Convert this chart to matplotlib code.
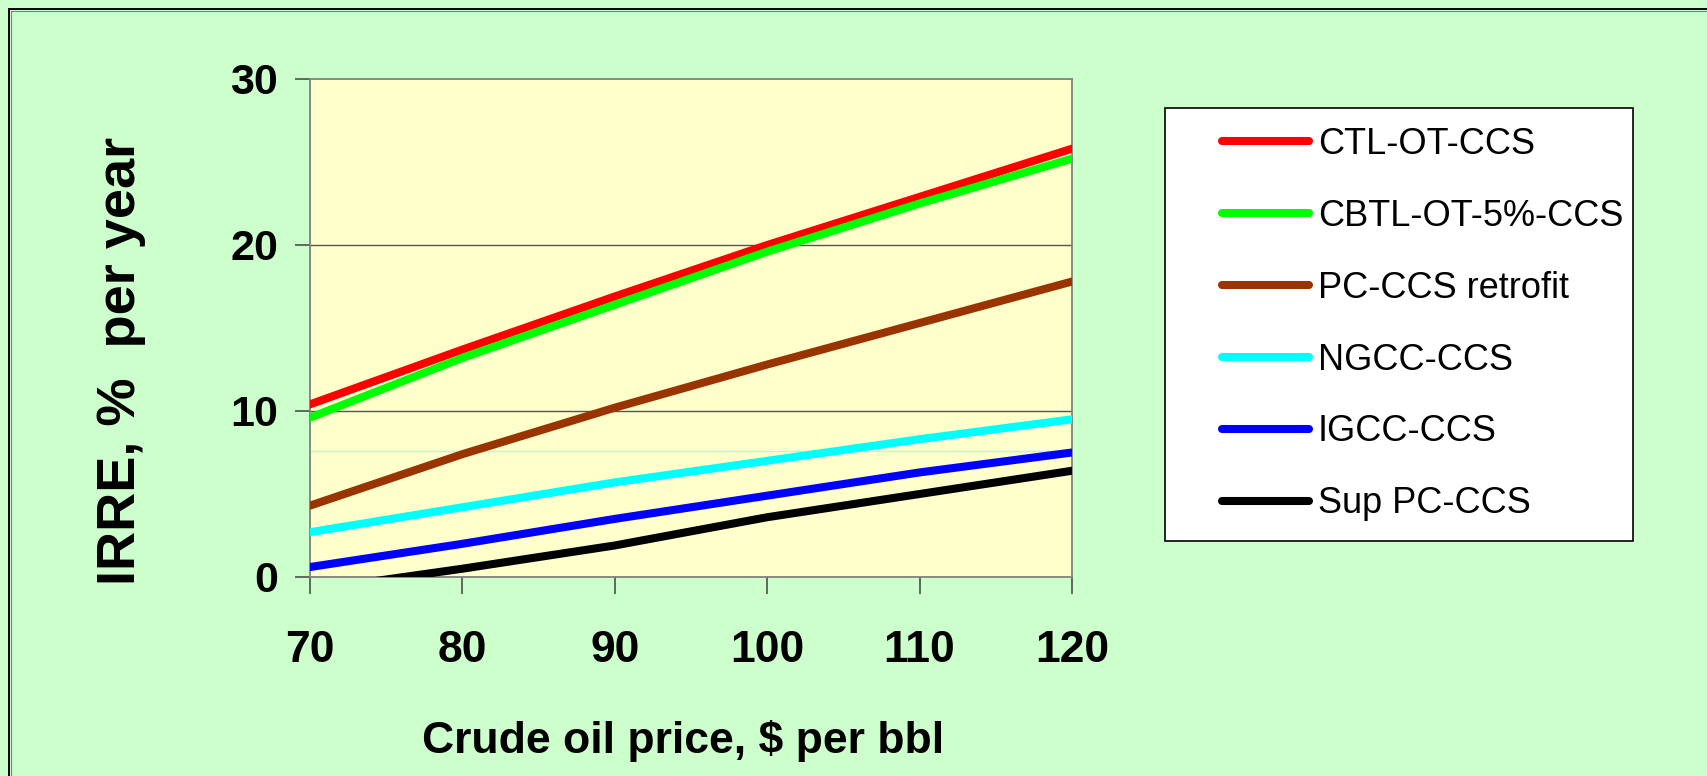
import matplotlib
matplotlib.use("Agg")
import matplotlib.pyplot as plt
from matplotlib.lines import Line2D
from matplotlib.patches import Rectangle

# Crude oil price ($/bbl) and IRRE (% per year) for each plant type
price = [70, 80, 90, 100, 110, 120]
ctl_ot_ccs = [10.4, 13.7, 16.9, 20.0, 22.9, 25.8]
cbtl_ot_ccs = [9.6, 13.2, 16.4, 19.6, 22.5, 25.2]
pc_ccs_retrofit = [4.3, 7.4, 10.2, 12.8, 15.3, 17.8]
ngcc_ccs = [2.7, 4.2, 5.7, 7.0, 8.3, 9.5]
igcc_ccs = [0.6, 2.0, 3.5, 4.9, 6.3, 7.5]
sup_pc_ccs = [-0.8, 0.5, 1.9, 3.6, 5.0, 6.4]

series_labels = ["CTL-OT-CCS", "CBTL-OT-5%-CCS", "PC-CCS retrofit",
                 "NGCC-CCS", "IGCC-CCS", "Sup PC-CCS"]
series_values = [ctl_ot_ccs, cbtl_ot_ccs, pc_ccs_retrofit,
                 ngcc_ccs, igcc_ccs, sup_pc_ccs]
series_colors = ["#FF0000", "#00FF00", "#993300", "#00FFFF", "#0000FF", "#000000"]

x_ticks = [70, 80, 90, 100, 110, 120]
y_ticks = [0, 10, 20, 30]

plt.rcParams["font.family"] = ["Liberation Sans", "DejaVu Sans"]

W, H, DPI = 1707, 776, 100
fig = plt.figure(figsize=(W / DPI, H / DPI), dpi=DPI, facecolor="#CCFFCC")

def fx(px):
    return px / W

def fy(py):
    return 1 - py / H

# plot area
ax = fig.add_axes([fx(310), fy(577), fx(1072) - fx(310), fy(79) - fy(577)])
ax.set_facecolor("#FFFFCC")

for vals, lab, col in zip(series_values, series_labels, series_colors):
    ax.plot(price, vals, color=col, lw=6.8, label=lab,
            solid_capstyle="round", solid_joinstyle="round", zorder=3)

ax.set_xlim(70, 120)
ax.set_ylim(0, 30)
ax.set_xticks(x_ticks)
ax.set_yticks(y_ticks)
ax.set_xticklabels([str(v) for v in x_ticks])
ax.set_yticklabels([str(v) for v in y_ticks])

# horizontal gridlines and a faint guide line
for yv in (10, 20):
    ax.axhline(yv, color="#555555", lw=1.0, zorder=1)
ax.axhline(7.6, color="#C4F4CC", lw=1.0, zorder=1)

for s in ax.spines.values():
    s.set_color("#808080")
    s.set_linewidth(1.3)

ax.tick_params(axis="y", direction="out", length=11, width=1.1, color="#404040",
               pad=12, labelsize=31)
ax.tick_params(axis="x", direction="out", length=12, width=1.1, color="#404040",
               pad=26, labelsize=32)
for lbl in ax.get_xticklabels() + ax.get_yticklabels():
    lbl.set_fontweight("bold")

# axis titles
fig.text(fx(683), fy(753), "Crude oil price, $ per bbl", ha="center", va="baseline",
         fontsize=32, fontweight="bold")
fig.text(fx(135), fy(361), "IRRE, %  per year", rotation=90, rotation_mode="anchor",
         ha="center", va="baseline", fontsize=39, fontweight="bold")

# legend box
fig.add_artist(Rectangle((fx(1165), fy(541)), fx(1633) - fx(1165), fy(108) - fy(541),
                         transform=fig.transFigure, facecolor="white",
                         edgecolor="black", lw=1.2, zorder=1))
handles, labels = ax.get_legend_handles_labels()
for h in handles:
    h.set_linewidth(5.8)
leg = fig.legend(handles, labels, loc="upper left",
                 bbox_to_anchor=(fx(1222), fy(127)), bbox_transform=fig.transFigure,
                 frameon=False, fontsize=26, borderpad=0, borderaxespad=0,
                 handlelength=2.4, handletextpad=0.25, labelspacing=1.02)
leg.set_zorder(5)

# figure frame (left and top edges)
fig.add_artist(Line2D([fx(8.5), fx(8.5)], [0, fy(8.5)], transform=fig.transFigure,
                      color="black", lw=1.4, zorder=6))
fig.add_artist(Line2D([fx(8.5), 1], [fy(8.5), fy(8.5)], transform=fig.transFigure,
                      color="black", lw=1.4, zorder=6))
fig.add_artist(Line2D([fx(10.5), fx(10.5)], [0, fy(10.5)], transform=fig.transFigure,
                      color="#808080", lw=0.8, zorder=6))
fig.add_artist(Line2D([fx(10.5), 1], [fy(10.5), fy(10.5)], transform=fig.transFigure,
                      color="#808080", lw=0.8, zorder=6))

fig.savefig("out.png", dpi=DPI, facecolor=fig.get_facecolor())
